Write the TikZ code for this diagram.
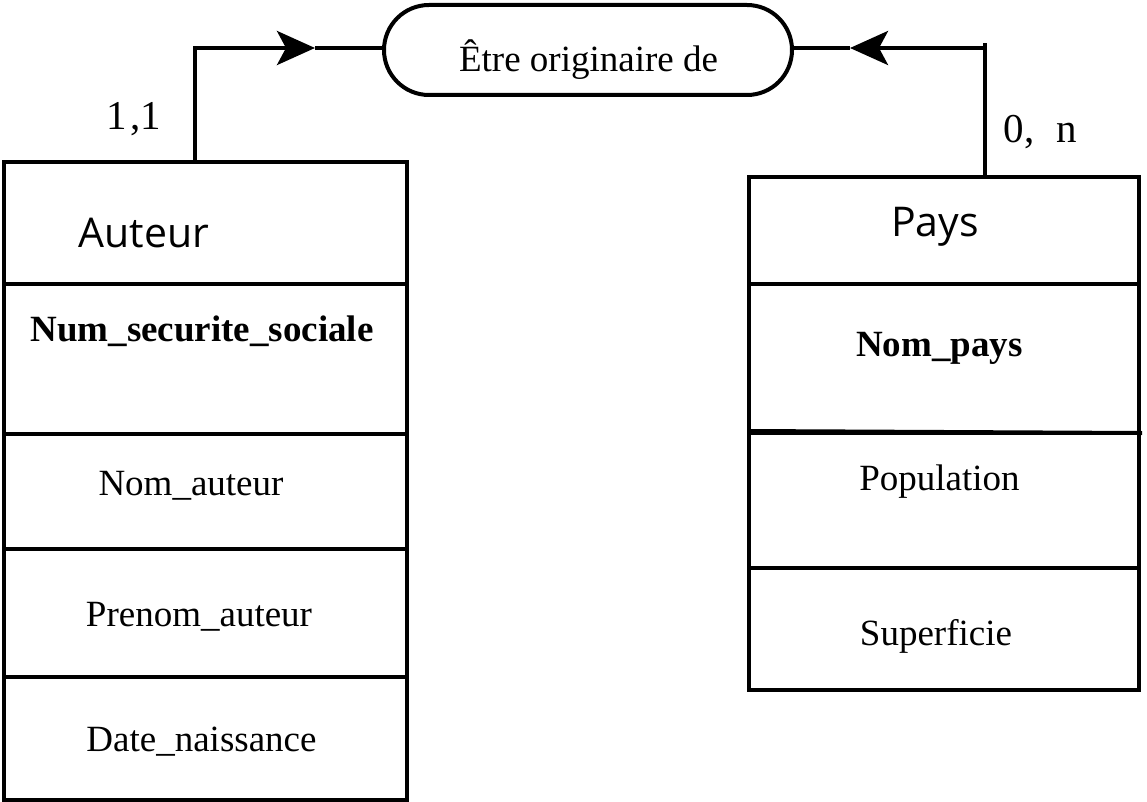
\documentclass[tikz,border=0pt]{standalone}
\usepackage{fontspec}
\setmainfont{Liberation Serif}
\newfontfamily\hdrfont{Open Sans}
\usetikzlibrary{arrows.meta}
\tikzset{
  cell/.style={draw, line width=4pt, inner sep=0pt, minimum width=#1},
  attr/.style={font=\fontsize{37}{42}\selectfont, inner sep=0pt, anchor=base},
  keyattr/.style={font=\fontsize{37}{42}\selectfont\bfseries, inner sep=0pt, anchor=base},
  hdr/.style={font=\hdrfont\fontsize{41}{48}\selectfont, inner sep=0pt, anchor=base},
  card/.style={font=\fontsize{41}{48}\selectfont, inner sep=0pt, anchor=base},
  conn/.style={line width=4pt},
  tip/.style={-{Stealth[length=38pt,width=34pt,inset=9pt]}},
  relbox/.style={draw, line width=4pt, rounded corners=45pt, minimum width=408pt, minimum height=90pt, inner sep=0pt}
}
\begin{document}
\begin{tikzpicture}[x=1pt,y=-1pt]
\useasboundingbox (0,0) rectangle (1147,802);
% Auteur entity
\node[cell=403pt, minimum height=122pt] (a0) at (205.5,223) {};
\node[cell=403pt, minimum height=150pt] (a1) at (205.5,359) {};
\node[cell=403pt, minimum height=115pt] (a2) at (205.5,491.5) {};
\node[cell=403pt, minimum height=128pt] (a3) at (205.5,613) {};
\node[cell=403pt, minimum height=123pt] (a4) at (205.5,738.5) {};
\node[hdr] (ta0) at (144,247.5) {Auteur};
\node[keyattr] (ta1) at (202,341.5) {Num\_securite\_sociale};
\node[attr] (ta2) at (191,495) {Nom\_auteur};
\node[attr] (ta3) at (199,626.5) {Prenom\_auteur};
\node[attr] (ta4) at (201.5,751.5) {Date\_naissance};
% Pays entity
\node[cell=390pt, minimum height=107pt] (p0) at (944,230.5) {};
\node[cell=390pt, minimum height=149pt] (p1) at (944,358.5) {};
\node[cell=390pt, minimum height=135pt] (p2) at (944,500.5) {};
\node[cell=390pt, minimum height=122pt] (p3) at (944,629) {};
\coordinate (pe) at (1142,433);
\draw[conn] (p2.north west) -- (pe);
\node[hdr] (tp0) at (935,236.5) {Pays};
\node[keyattr] (tp1) at (939.5,356) {Nom\_pays};
\node[attr] (tp2) at (939.5,490) {Population};
\node[attr] (tp3) at (936,645) {Superficie};
% Relation
\node[relbox] (rel) at (588,50) {};
\node[attr] (trel) at (588.5,71.5) {Être originaire de};
% Connectors
\coordinate (la) at (195,48);
\coordinate (lt) at (315,48);
\draw[conn, tip] (a0.north -| la) -- (la) -- (lt);
\draw[conn] (lt) -- (rel.west |- lt);
\coordinate (ra) at (985,43);
\coordinate (rb) at (985,48);
\coordinate (rt) at (850,48);
\draw[conn] (p0.north -| ra) -- (ra);
\draw[conn, tip] (rb) -- (rt);
\draw[conn] (rt) -- (rel.east |- rt);
% Cardinalities
\node[card] (c1) at (134,130) {1\hspace{3pt},1};
\node[card] (c2) at (1040.5,143) {0,\hspace{22pt}n};
\end{tikzpicture}
\end{document}
